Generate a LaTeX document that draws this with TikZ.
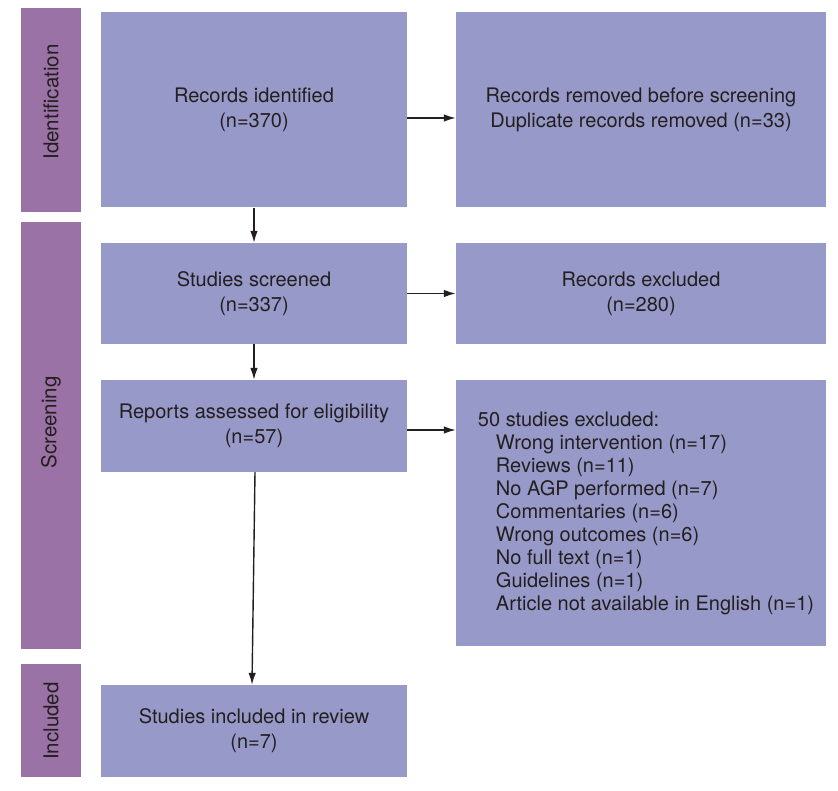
\documentclass[tikz,border=0pt]{standalone}
\usepackage{fontspec}
\setmainfont{TeX Gyre Heros}
\usetikzlibrary{arrows.meta,positioning}

\definecolor{boxblue}{RGB}{151,153,200}
\definecolor{stagepurple}{RGB}{155,114,165}
\definecolor{inkgrey}{RGB}{35,31,32}

\begin{document}
\begin{tikzpicture}[%
    x=1pt, y=-1pt,                  % Work in pixels, top-down
    >={Latex[length=12pt,width=7.5pt]},  % Filled arrow heads
    every node/.style={text=inkgrey},
    ]
% -------------------------------------------------
% Box styles
\tikzset{
  base/.style={fill, inner sep=0pt, align=center},
  box/.style={base, boxblue, text=inkgrey, minimum width=306pt,
    font=\fontsize{20}{25}\selectfont},
  sidebox/.style={box, minimum width=370pt},
  stagebar/.style={base, stagepurple, minimum width=60pt},
  stagetxt/.style={rotate=90, font=\fontsize{20.5}{24}\selectfont},
  % Connector line style
  norm/.style={->, draw=inkgrey, line width=1.4pt},
}
\useasboundingbox (0,0) rectangle (838,791);
% -------------------------------------------------
% Stage bars on the left
\node [stagebar, minimum height=204pt] (identbar) at (51,110) {};
\node [stagebar, minimum height=427pt] (screenbar) at (51,435.5) {};
\node [stagebar, minimum height=113pt] (inclbar) at (51,720.5) {};
\node [stagetxt] (identlbl) at (51,102) {Identification};
\node [stagetxt] (screenlbl) at (51,422.5) {Screening};
\node [stagetxt] (incllbl) at (51,721) {Included};

% -------------------------------------------------
% Main column
\node [box, minimum height=195pt] (ident) at (254,110)
  {Records identified\\(n=370)};
\node [box, minimum height=101pt] (screened) at (254,293.5)
  {Studies screened\\(n=337)};
\node [box, minimum height=92pt] (reports) at (254,426)
  {Reports assessed for eligibility\\(n=57)};
\node [box, minimum height=92pt] (included) at (254,731)
  {Studies included in review\\(n=7)};

% Side column
\node [sidebox, minimum height=195pt] (removed) at (641,110)
  {Records removed before screening\\Duplicate records removed (n=33)};
\node [sidebox, minimum height=101pt] (recexcl) at (641,293.5)
  {Records excluded\\(n=280)};
\node [sidebox, minimum height=266pt, align=left,
  font=\fontsize{20}{23}\selectfont] (studexcl) at (641,513)
  {\hspace*{10pt}50 studies excluded:\\
   \hspace*{28pt}Wrong intervention (n=17)\\
   \hspace*{28pt}Reviews (n=11)\\
   \hspace*{28pt}No AGP performed (n=7)\\
   \hspace*{28pt}Commentaries (n=6)\\
   \hspace*{28pt}Wrong outcomes (n=6)\\
   \hspace*{28pt}No full text (n=1)\\
   \hspace*{28pt}Guidelines (n=1)\\
   \hspace*{28pt}Article not available in English (n=1)};

% -------------------------------------------------
% Connectors
\draw [norm] ([yshift=-8pt]ident.east) -- ([yshift=-8pt]ident.east -| removed.west);
\draw [norm] (ident) -- (screened);
\draw [norm] (screened) -- (recexcl);
\draw [norm] (screened) -- (reports);
\draw [norm] ([yshift=-4pt]reports.east) -- ([yshift=-4pt]reports.east -| studexcl.west);
\draw [norm] ([xshift=1pt]reports.south) -- ([xshift=-2pt]included.north);

% -------------------------------------------------
\end{tikzpicture}
\end{document}
